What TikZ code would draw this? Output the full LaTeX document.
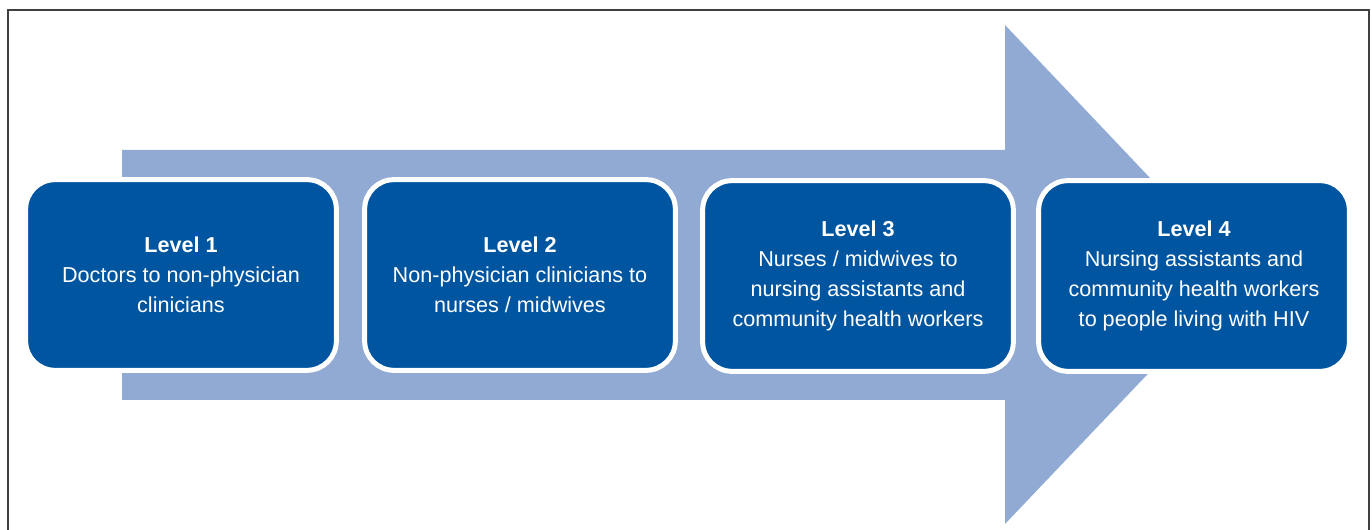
\documentclass[tikz,border=0pt]{standalone}
\usepackage{fontspec}
\setmainfont{Liberation Sans}
\usepackage{tikz}
\definecolor{lvlblue}{HTML}{0055A0}
\definecolor{arrowblue}{HTML}{91AAD3}
\tikzset{
	lvl/.style={rectangle,rounded corners=22pt,fill=lvlblue,draw=white,line width=3.75pt,
		minimum width=233pt,minimum height=143pt,text=white,align=center,
		font=\fontsize{16.2}{22.5}\selectfont},
	frame/.style={draw=black!75,line width=0.9pt}
}
\begin{document}
\begin{tikzpicture}[x=0.75pt,y=-0.75pt]
						\useasboundingbox (0,0) rectangle (1372,530);
						\draw [frame] (8,530) -- (8,10) -- (1369,10) -- (1369,530);
						
						\fill [arrowblue] (122,150) -- (1005,150) -- (1005,25) -- (1242,275) -- (1005,524) -- (1005,400) -- (122,400) -- cycle;
						
						\node [lvl] (l1) at (181,275) {\textbf{Level 1}\\Doctors to non-physician\\clinicians};
						\node [lvl] (l2) at (520,275) {\textbf{Level 2}\\Non-physician clinicians to\\nurses / midwives};
						\node [lvl] (l3) at (858,276) {\textbf{Level 3}\\Nurses / midwives to\\nursing assistants and\\community health workers};
						\node [lvl] (l4) at (1194,276) {\textbf{Level 4}\\Nursing assistants and\\community health workers\\to people living with HIV};
					\end{tikzpicture}
\end{document}
